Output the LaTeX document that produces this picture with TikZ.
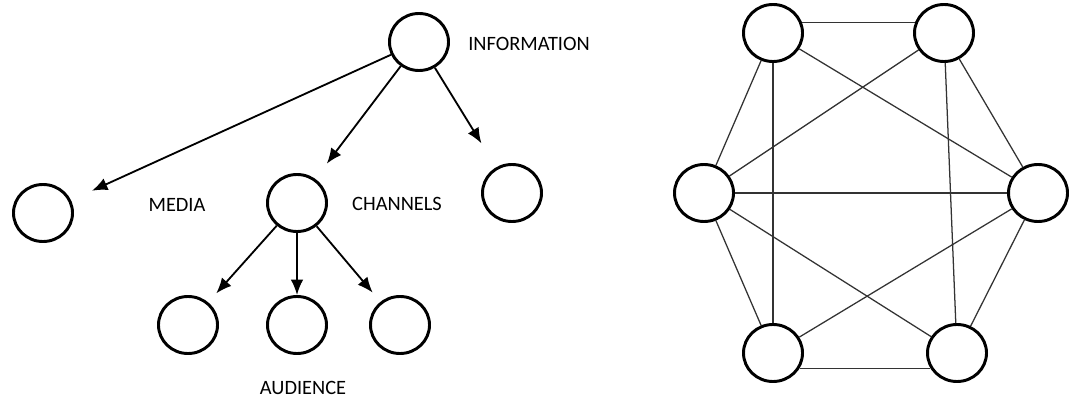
\documentclass[tikz,border=0pt]{standalone}
\usepackage{fontspec}
\setmainfont{Carlito}
\usetikzlibrary{arrows.meta,shapes.geometric}

\begin{document}
\begin{tikzpicture}[x=0.025cm, y=-0.025cm,
        no/.style={draw, ellipse, line width=2.1pt, minimum width=1.475cm, minimum height=1.425cm, inner sep=0pt},
        seta/.style={-{Latex[length=11pt,width=9pt]}, line width=1.3pt},
        aresta/.style={color=black!80, line width=0.9pt},
        rotulo/.style={font=\fontsize{14.5}{17}\selectfont, text=black, inner sep=1pt}]
        \useasboundingbox (0,0) rectangle (1069,399);

        % Árvore
        \node[no] (info) at (419,42) {};
        \node[no] (media) at (43,213) {};
        \node[no] (canais) at (297,203) {};
        \node[no] (outro) at (512,193) {};
        \node[no] (publicoA) at (188,325) {};
        \node[no] (publicoB) at (297,325) {};
        \node[no] (publicoC) at (400,325) {};

        % Setas
        \draw [seta, shorten >=0.575cm] (info) -- (media);
        \draw [seta, shorten >=0.475cm] (info) -- (canais);
        \draw [seta, shorten >=0.7cm] (info) -- (outro);
        \draw [seta, shorten >=0.3cm] (canais) -- (publicoA);
        \draw [seta] (canais) -- (publicoB);
        \draw [seta, shorten >=0.3cm] (canais) -- (publicoC);

        % Rótulos
        \node[rotulo] (tinfo) at (529,44) {INFORMATION};
        \node[rotulo] (tmedia) at (177,205) {MEDIA};
        \node[rotulo] (tcanais) at (397,204) {CHANNELS};
        \node[rotulo] (tpublico) at (303,388) {AUDIENCE};

        % Grafo
        \node[no] (ne) at (773,33) {};
        \node[no] (nd) at (944,33) {};
        \node[no] (e) at (704,193) {};
        \node[no] (d) at (1038,193) {};
        \node[no] (se) at (773,353) {};
        \node[no] (sd) at (957,353) {};

        \draw [aresta] (ne.20) -- (nd.160);
        \draw [aresta] (se.-30) -- (sd.210);
        \draw [aresta] (ne) -- (se);
        \draw [aresta] (nd) -- (sd);
        \draw [aresta] (e) -- (d);
        \draw [aresta] (ne) -- (e);
        \draw [aresta] (e) -- (se);
        \draw [aresta] (nd) -- (d);
        \draw [aresta] (d) -- (sd);
        \draw [aresta] (ne) -- (d);
        \draw [aresta] (nd) -- (e);
        \draw [aresta] (e) -- (sd);
        \draw [aresta] (d) -- (se);

    \end{tikzpicture}
\end{document}
